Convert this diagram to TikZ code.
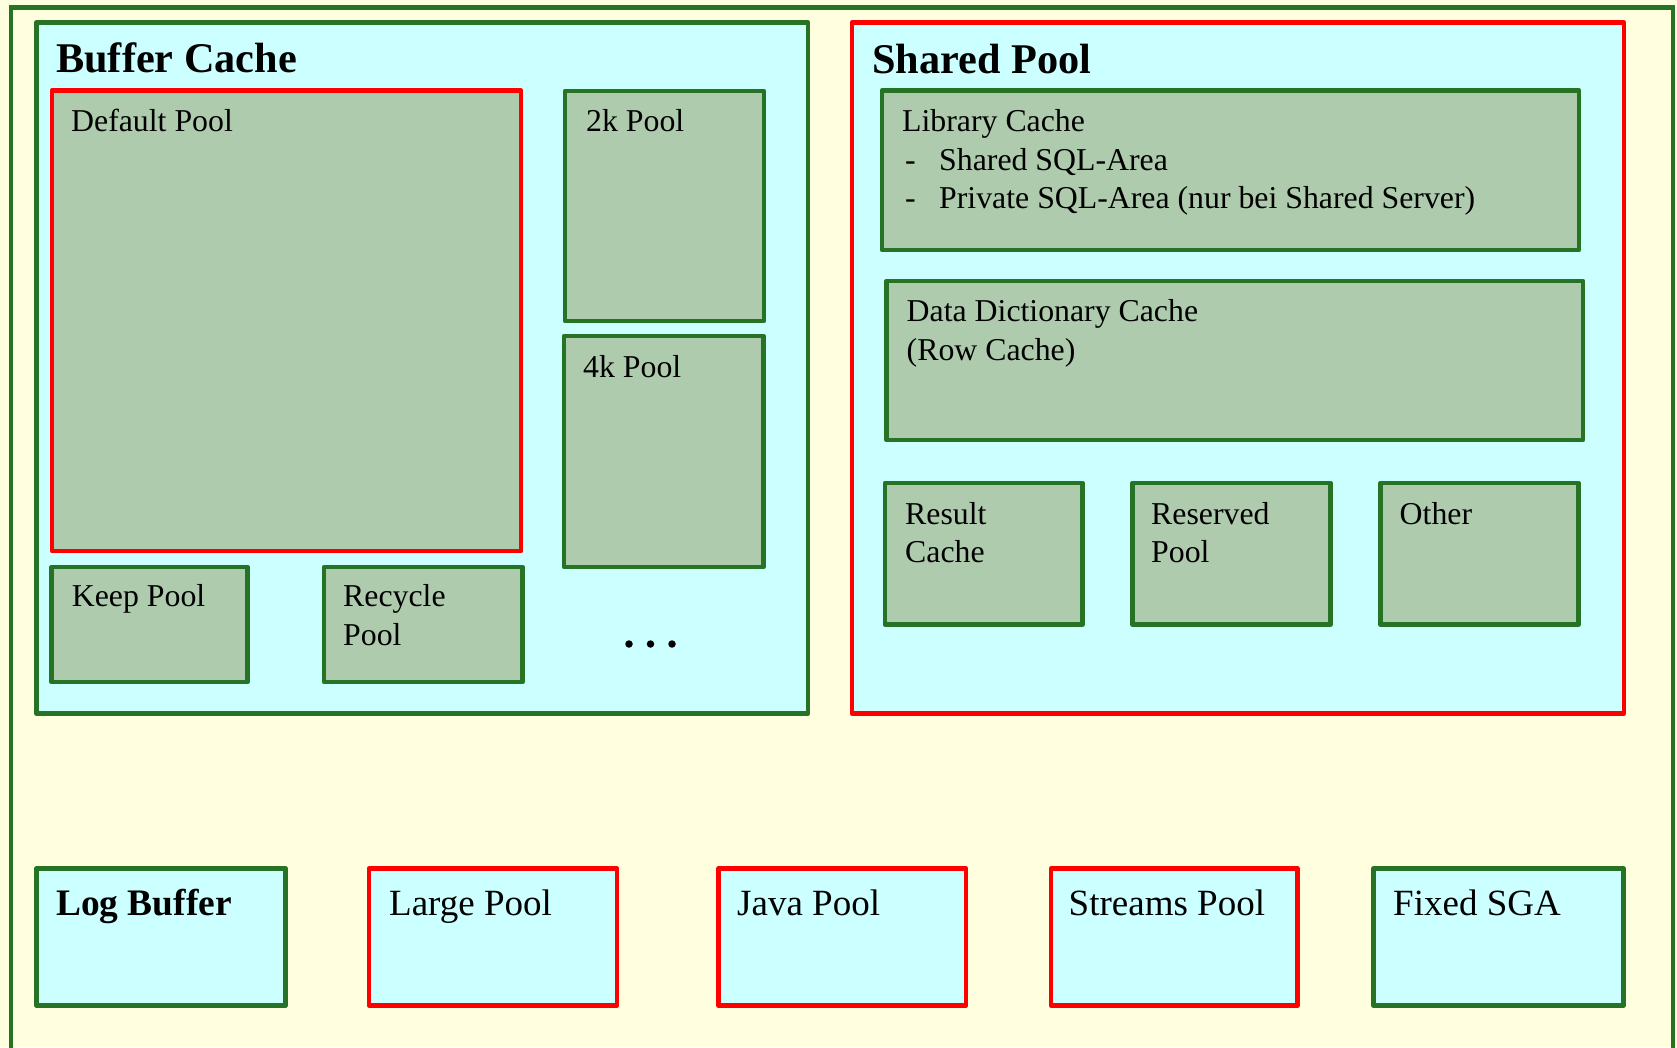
\documentclass[tikz,border=0pt]{standalone}
\usepackage{fontspec}
\setmainfont{Liberation Serif}
\usetikzlibrary{fit}

\definecolor{sgabg}{HTML}{FFFFE0}
\definecolor{areabg}{HTML}{CCFFFF}
\definecolor{poolbg}{HTML}{AECBAE}
\definecolor{framegreen}{HTML}{267326}
\definecolor{framered}{HTML}{FF0000}

\tikzset{
  area/.style={inner sep=0pt, line width=4.8pt, line join=round, fill=areabg},
  greenarea/.style={area, draw=framegreen},
  redarea/.style={area, draw=framered},
  pool/.style={inner sep=0pt, line width=4.8pt, line join=round, fill=poolbg},
  greenpool/.style={pool, draw=framegreen},
  redpool/.style={pool, draw=framered},
  lbl/.style={inner sep=0pt, anchor=base west, font=\fontsize{31.8}{38.5}\selectfont},
  rowlbl/.style={lbl, font=\fontsize{37}{44}\selectfont},
  rowtitle/.style={lbl, font=\fontsize{37.4}{44}\selectfont\bfseries},
  title/.style={lbl, font=\fontsize{42.3}{48}\selectfont\bfseries},
  dot/.style={circle, fill=black, inner sep=0pt, minimum size=7.5pt},
}

\begin{document}
\begin{tikzpicture}[x=1pt, y=-1pt]
  \useasboundingbox (0,0) rectangle (1677,1047);
  \clip (0,0) rectangle (1677,1047);
  \fill[sgabg] (0,0) rectangle (1677,1047);

  % SGA frame, running off the lower edge
  \node[inner sep=0pt, line width=4.8pt, draw=framegreen, fit={(11,7.5) (1673,1080)}] (sga) {};

  % Buffer Cache
  \node[greenarea, fit={(36.5,22.5) (808,713.5)}] (bc) {};
  \node[title] (bc-t) at (56,72.7) {Buffer Cache};
  \node[redpool, fit={(52,90.5) (521,551)}] (dp) {};
  \node[lbl] (dp-t) at (71,131) {Default Pool};
  \node[greenpool, fit={(565,91) (764,321)}] (p2k) {};
  \node[lbl] (p2k-t) at (586,131.7) {2k Pool};
  \node[greenpool, fit={(564,336) (763.5,567)}] (p4k) {};
  \node[lbl] (p4k-t) at (583,377.5) {4k Pool};
  \node[greenpool, fit={(51.7,567) (247.5,682)}] (kp) {};
  \node[lbl] (kp-t) at (71.7,606.7) {Keep Pool};
  \node[greenpool, fit={(324,567) (522.5,682)}] (rp) {};
  \node[lbl] (rp-t1) at (343,606.7) {Recycle};
  \node[lbl] (rp-t2) at (343,645) {Pool};
  \node[dot] (d1) at (629,644) {};
  \node[dot] (d2) at (650.5,644) {};
  \node[dot] (d3) at (672,644) {};

  % Shared Pool
  \node[redarea, fit={(852,22.5) (1624,713.5)}] (sp) {};
  \node[title] (sp-t) at (872,73) {Shared Pool};
  \node[greenpool, fit={(882,90.5) (1579,250)}] (lc) {};
  \node[lbl] (lc-t) at (902,131.5) {Library Cache};
  \node[lbl] (lc-d1) at (905,170) {-};
  \node[lbl] (lc-i1) at (939,170) {Shared SQL-Area};
  \node[lbl] (lc-d2) at (905,208.5) {-};
  \node[lbl] (lc-i2) at (939,208.5) {Private SQL-Area (nur bei Shared Server)};
  \node[greenpool, fit={(886.5,281) (1583,440)}] (dd) {};
  \node[lbl] (dd-t1) at (906.5,321.7) {Data Dictionary Cache};
  \node[lbl] (dd-t2) at (906.5,360) {(Row Cache)};
  \node[greenpool, fit={(885,483) (1082.5,624.5)}] (rc) {};
  \node[lbl] (rc-t1) at (905,524) {Result};
  \node[lbl] (rc-t2) at (905,562) {Cache};
  \node[greenpool, fit={(1132.5,483) (1330.5,624.5)}] (rv) {};
  \node[lbl] (rv-t1) at (1151,524) {Reserved};
  \node[lbl] (rv-t2) at (1151,562) {Pool};
  \node[greenpool, fit={(1380.5,483) (1578.5,624.5)}] (ot) {};
  \node[lbl] (ot-t) at (1399.5,524) {Other};

  % Lower row of SGA components
  \node[greenarea, fit={(36.5,868.5) (285.5,1005.5)}] (lb) {};
  \node[rowtitle] (lb-t) at (56,915) {Log Buffer};
  \node[redarea, fit={(369,868.5) (617,1005.5)}] (lp) {};
  \node[rowlbl] (lp-t) at (389,915) {Large Pool};
  \node[redarea, fit={(718.5,868.5) (966,1005.5)}] (jp) {};
  \node[rowlbl] (jp-t) at (737,915) {Java Pool};
  \node[redarea, fit={(1051,868.5) (1297.5,1005.5)}] (st) {};
  \node[rowlbl] (st-t) at (1068.5,915) {Streams Pool};
  \node[greenarea, fit={(1373.5,868.5) (1623.5,1005.5)}] (fx) {};
  \node[rowlbl] (fx-t) at (1393,915) {Fixed SGA};
\end{tikzpicture}
\end{document}
